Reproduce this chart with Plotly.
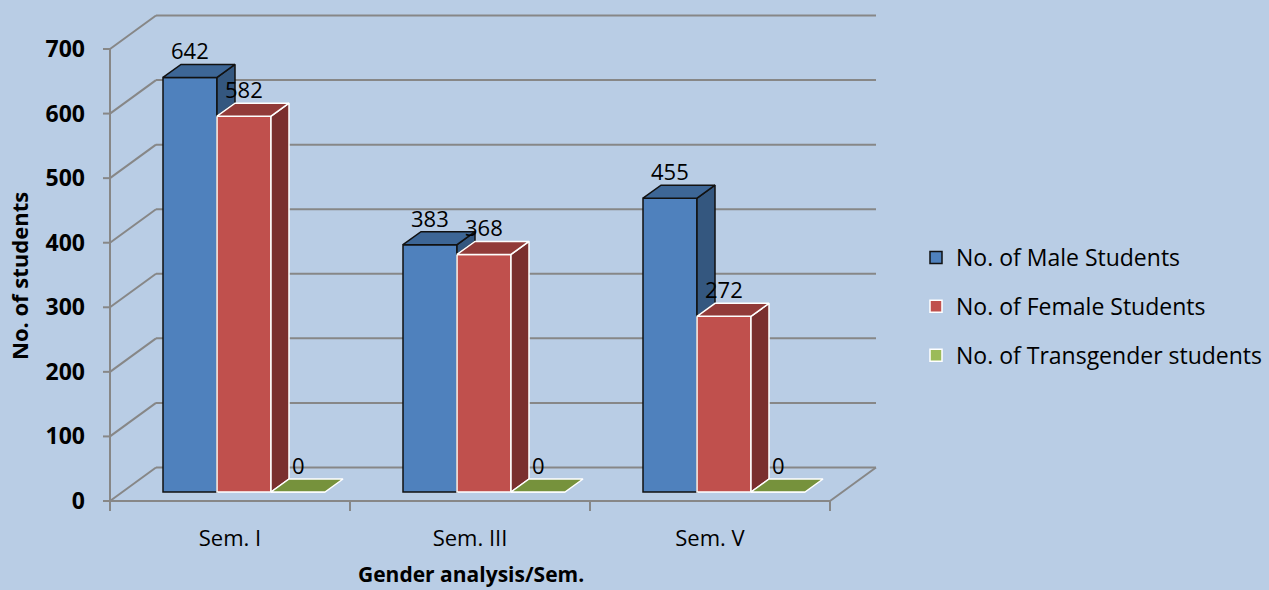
import plotly.graph_objects as go

# ---------------- data ----------------
categories = ["Sem. I", "Sem. III", "Sem. V"]
male = [642, 383, 455]
female = [582, 368, 272]
transgender = [0, 0, 0]
series_names = ["No. of Male Students", "No. of Female Students", "No. of Transgender students"]
y_ticks = [0, 100, 200, 300, 400, 500, 600, 700]
x_title = "Gender analysis/Sem."
y_title = "No. of students"

# ---------------- styling ----------------
W, H = 1269, 590
BG = "#B9CDE5"
GRID = "#878787"
FONT = "Open Sans"
front_cols = ["#4F81BD", "#C0504D", "#9BBB59"]
top_cols = ["#3D6696", "#923B39", "#76923C"]
side_cols = ["#34577F", "#7A2F2E", "#5F7530"]
edge_cols = ["#111111", "#FFFFFF", "#FFFFFF"]

# pixel geometry of the pseudo-3D frame
X0, PXU = 110, 240.0          # px of category origin, px per category
Y0, PXV = 501, 452.0 / 700.0  # px of value 0 on front axis, px per unit


def ux(dpx):
    return dpx / PXU


def uv(dpx):
    return dpx / PXV


WALL_DX, WALL_DY = ux(46), uv(33.5)
BAR_DX, BAR_DY = ux(14), uv(9)
DEP_DX, DEP_DY = ux(18), uv(13)
BAR_W = ux(54)

left_px, right_px, top_px, bot_px = 98, 895, 8, 517
xr = [ux(left_px - X0), ux(right_px - X0)]
yr = [-uv(bot_px - Y0), uv(Y0 - top_px)]
plot_w = right_px - left_px
plot_h = bot_px - top_px


def px_to_paper_x(px):
    return (px - left_px) / plot_w


def px_to_paper_y(py):
    return (bot_px - py) / plot_h


series = [male, female, transgender]
ncat = len(categories)

fig = go.Figure()

# front faces of bars
centers = []
for j, vals in enumerate(series):
    xs = [i + 0.5 + BAR_DX + (j - 1) * BAR_W for i in range(ncat)]
    centers.append(xs)
    fig.add_trace(go.Bar(
        x=xs, y=vals, base=[BAR_DY] * ncat, width=BAR_W,
        name=series_names[j], legendgroup=str(j),
        marker=dict(color=front_cols[j], line=dict(color=edge_cols[j], width=1.5)),
        hoverinfo="skip",
    ))

# top and side faces
for j, vals in enumerate(series):
    tx, ty, sx, sy = [], [], [], []
    for i in range(ncat):
        c = centers[j][i]
        v = vals[i]
        l, r = c - BAR_W / 2, c + BAR_W / 2
        b = BAR_DY
        tx += [l, r, r + DEP_DX, l + DEP_DX, l, None]
        ty += [b + v, b + v, b + v + DEP_DY, b + v + DEP_DY, b + v, None]
        lo = series[j + 1][i] if j + 1 < len(series) else 0
        lo = max(lo, 0)
        if v > lo:
            sx += [r, r, r + DEP_DX, r + DEP_DX, r, None]
            sy += [b + lo, b + v, b + v + DEP_DY, b + lo + DEP_DY, b + lo, None]
    if sx:
        fig.add_trace(go.Scatter(x=sx, y=sy, mode="lines", fill="toself",
                                 fillcolor=side_cols[j], line=dict(color=edge_cols[j], width=1.5),
                                 showlegend=False, hoverinfo="skip"))
    fig.add_trace(go.Scatter(x=tx, y=ty, mode="lines", fill="toself",
                             fillcolor=top_cols[j], line=dict(color=edge_cols[j], width=1.5),
                             showlegend=False, hoverinfo="skip"))

# walls, floor and axis lines
shapes = []
line = dict(color=GRID, width=2)
for t in y_ticks:
    shapes.append(dict(type="line", xref="x", yref="y", layer="below", line=line,
                       x0=WALL_DX, x1=ncat + WALL_DX, y0=t + WALL_DY, y1=t + WALL_DY))
    shapes.append(dict(type="line", xref="x", yref="y", layer="below", line=line,
                       x0=0, x1=WALL_DX, y0=t, y1=t + WALL_DY))
    shapes.append(dict(type="line", xref="x", yref="y", layer="below", line=line,
                       x0=ux(-7), x1=0, y0=t, y1=t))
shapes.append(dict(type="line", xref="x", yref="y", layer="below", line=line,
                   x0=0, x1=0, y0=0, y1=y_ticks[-1]))
shapes.append(dict(type="line", xref="x", yref="y", layer="below", line=line,
                   x0=0, x1=ncat, y0=0, y1=0))
shapes.append(dict(type="line", xref="x", yref="y", layer="below", line=line,
                   x0=ncat, x1=ncat + WALL_DX, y0=0, y1=WALL_DY))
for i in range(ncat + 1):
    shapes.append(dict(type="line", xref="x", yref="y", layer="below", line=line,
                       x0=i, x1=i, y0=0, y1=-uv(10)))

# data labels
annotations = []
for j, vals in enumerate(series):
    for i in range(ncat):
        annotations.append(dict(
            x=centers[j][i], y=vals[i] + BAR_DY + DEP_DY + uv(14), xref="x", yref="y",
            text=str(vals[i]), showarrow=False,
            font=dict(family=FONT, size=22, color="#000000")))

annotations.append(dict(x=px_to_paper_x(471), y=px_to_paper_y(574), xref="paper", yref="paper",
                        xanchor="center", yanchor="middle",
                        text=x_title, showarrow=False,
                        font=dict(family=FONT, size=21, color="#000000", weight="bold")))
annotations.append(dict(x=px_to_paper_x(19), y=px_to_paper_y(276), xref="paper", yref="paper",
                        xanchor="center", yanchor="middle",
                        text=y_title, showarrow=False, textangle=-90,
                        font=dict(family=FONT, size=22, color="#000000", weight="bold")))

fig.update_layout(
    width=W, height=H, autosize=False,
    paper_bgcolor=BG, plot_bgcolor=BG,
    margin=dict(l=left_px, r=W - right_px, t=top_px, b=H - bot_px, pad=0),
    barmode="overlay",
    showlegend=True,
    legend=dict(xref="container", yref="container", x=916 / W, y=1 - 236 / H,
                xanchor="left", yanchor="top", traceorder="grouped",
                tracegroupgap=16, bgcolor="rgba(0,0,0,0)",
                font=dict(family=FONT, size=23, color="#000000")),
    xaxis=dict(range=xr, showgrid=False, zeroline=False, showline=False,
               tickvals=[i + 0.5 for i in range(ncat)], ticktext=categories,
               ticks="", ticklabelstandoff=6,
               tickfont=dict(family=FONT, size=22, color="#000000"), fixedrange=True),
    yaxis=dict(range=yr, showgrid=False, zeroline=False, showline=False,
               tickvals=y_ticks, ticktext=[str(t) for t in y_ticks],
               ticks="", ticklabelstandoff=12,
               tickfont=dict(family=FONT, size=23, color="#000000", weight="bold"),
               fixedrange=True),
    shapes=shapes,
    annotations=annotations,
)

fig.write_html("out.html", config={"displayModeBar": False},
               post_script="document.body.style.margin='0';document.body.style.overflow='hidden';")
